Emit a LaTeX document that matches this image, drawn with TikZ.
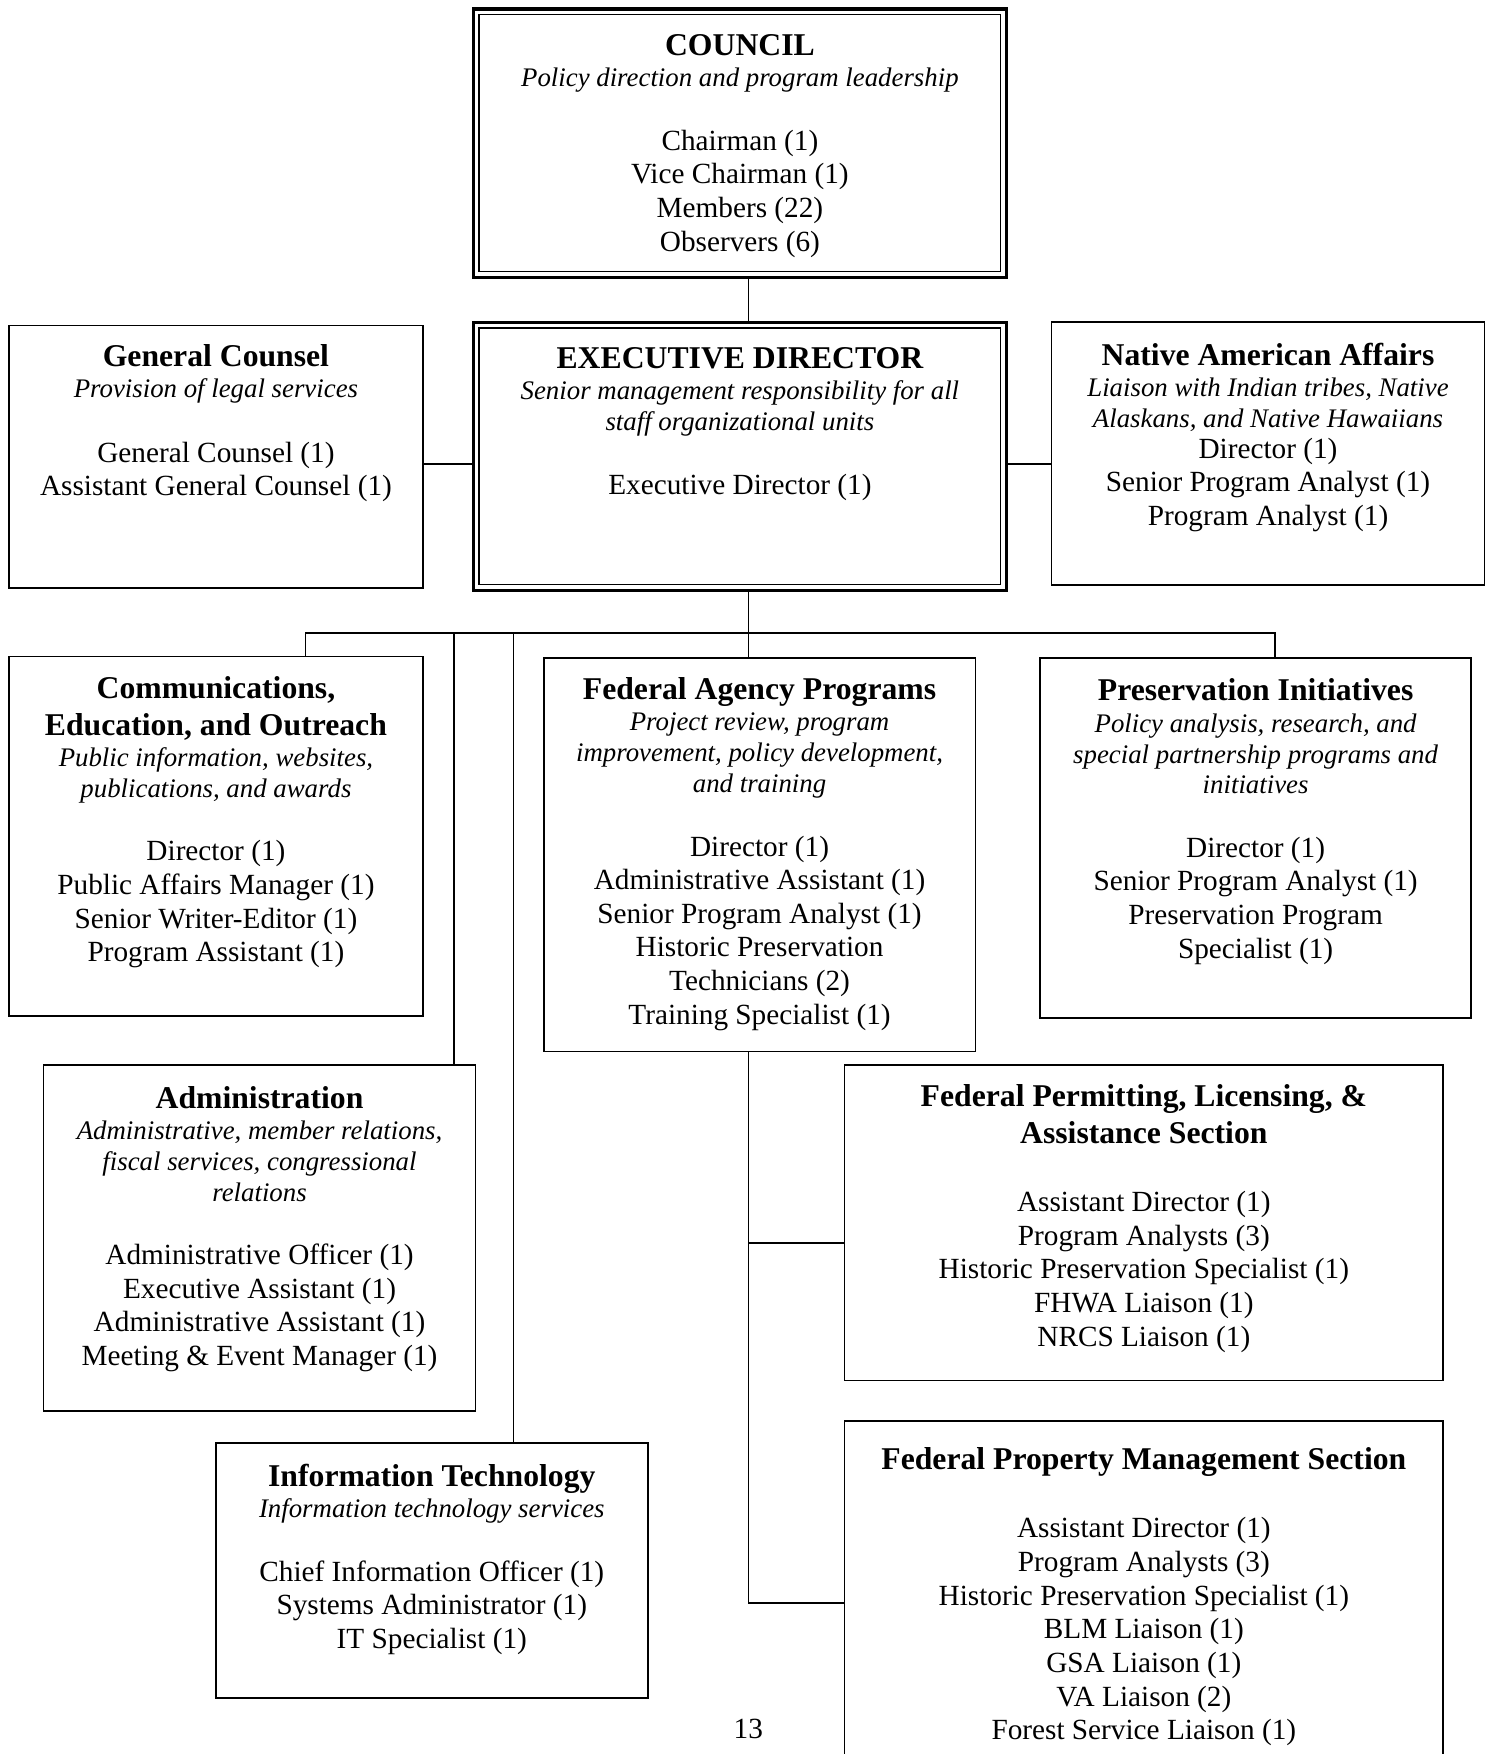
\documentclass[tikz,border=0pt]{standalone}
\usepackage{fontspec}
\setmainfont{Liberation Serif}
\usetikzlibrary{positioning}

\newcommand{\unitname}[1]{{\fontsize{13}{15}\selectfont\bfseries #1}}
\newcommand{\unitrole}[1]{{\fontsize{11}{12.65}\selectfont\itshape #1}}

\tikzset{
    unit/.style={draw, rectangle, line width=0.7pt, anchor=north west, inner sep=0pt, outer sep=0pt},
    topunit/.style={unit, line width=1.3pt},
    unittext/.style={align=center, inner sep=0pt, font=\fontsize{12}{13.8}\selectfont},
    link/.style={line width=0.7pt}
}

\begin{document}
\begin{tikzpicture}[x=0.4588pt, y=-0.4588pt]
        \useasboundingbox (0,0) rectangle (1334,1568);
        \clip (0,0) rectangle (1334,1568);

        \node[topunit, minimum width=218.8pt, minimum height=110.1pt](council) at (423,8){};
        \node[topunit, minimum width=218.8pt, minimum height=110.1pt](exec) at (423,288){};
        \node[unit, minimum width=169.8pt, minimum height=107.8pt](counsel) at (8,291){};
        \node[unit, minimum width=177.6pt, minimum height=107.8pt](native) at (940,288){};
        \node[unit, minimum width=169.8pt, minimum height=147.3pt](ceo) at (8,587){};
        \node[unit, minimum width=177.1pt, minimum height=161.5pt](fap) at (486,588){};
        \node[unit, minimum width=176.6pt, minimum height=147.7pt](pi) at (930,588){};
        \node[unit, minimum width=177.1pt, minimum height=141.8pt](admin) at (39,952){};
        \node[unit, minimum width=177.1pt, minimum height=104.6pt](it) at (193,1290){};
        \node[unit, minimum width=245.5pt, minimum height=129.4pt](fpla) at (755,952){};
        \node[unit, minimum width=245.5pt, minimum height=156pt](fpm) at (755,1270){};

        \draw[line width=0.5pt] ([shift={(2.4pt,-2.4pt)}]council.north west) rectangle ([shift={(-2.4pt,2.4pt)}]council.south east);
        \draw[line width=0.5pt] ([shift={(2.4pt,-2.4pt)}]exec.north west) rectangle ([shift={(-2.4pt,2.4pt)}]exec.south east);

        \node[unittext](council-text)[below = 10.3pt of council.north]{
            \unitname{COUNCIL}\\[-1pt]
            \unitrole{Policy direction and program leadership}\\[12.2pt]
            Chairman (1)\\ Vice Chairman (1)\\ Members (22)\\ Observers (6)};
        \node[unittext](exec-text)[below = 10.3pt of exec.north]{
            \unitname{EXECUTIVE DIRECTOR}\\[-1pt]
            \unitrole{Senior management responsibility for all}\\[-1.15pt]
            \unitrole{staff organizational units}\\[12.2pt]
            Executive Director (1)};
        \node[unittext](counsel-text)[below = 7.6pt of counsel.north]{
            \unitname{General Counsel}\\[-1pt]
            \unitrole{Provision of legal services}\\[12.6pt]
            General Counsel (1)\\ Assistant General Counsel (1)};
        \node[unittext](native-text)[below = 8.5pt of native.north]{
            \unitname{Native American Affairs}\\[-1pt]
            \unitrole{Liaison with Indian tribes, Native}\\[-1.15pt]
            \unitrole{Alaskans, and Native Hawaiians}\\[-1.3pt]
            Director (1)\\ Senior Program Analyst (1)\\ Program Analyst (1)};
        \node[unittext](ceo-text)[below = 8pt of ceo.north]{
            \unitname{Communications,}\\[1.3pt]
            \unitname{Education, and Outreach}\\[-1pt]
            \unitrole{Public information, websites,}\\[-1.15pt]
            \unitrole{publications, and awards}\\[12.2pt]
            Director (1)\\ Public Affairs Manager (1)\\ Senior Writer-Editor (1)\\ Program Assistant (1)};
        \node[unittext](fap-text)[below = 8pt of fap.north]{
            \unitname{Federal Agency Programs}\\[-1pt]
            \unitrole{Project review, program}\\[-1.15pt]
            \unitrole{improvement, policy development,}\\[-1.15pt]
            \unitrole{and training}\\[12.2pt]
            Director (1)\\ Administrative Assistant (1)\\ Senior Program Analyst (1)\\
            Historic Preservation\\ Technicians (2)\\ Training Specialist (1)};
        \node[unittext](pi-text)[below = 8.5pt of pi.north]{
            \unitname{Preservation Initiatives}\\[-1pt]
            \unitrole{Policy analysis, research, and}\\[-1.15pt]
            \unitrole{special partnership programs and}\\[-1.15pt]
            \unitrole{initiatives}\\[12.2pt]
            Director (1)\\ Senior Program Analyst (1)\\ Preservation Program\\ Specialist (1)};
        \node[unittext](admin-text)[below = 8.5pt of admin.north]{
            \unitname{Administration}\\[-1pt]
            \unitrole{Administrative, member relations,}\\[-1.15pt]
            \unitrole{fiscal services, congressional}\\[-1.15pt]
            \unitrole{relations}\\[12.2pt]
            Administrative Officer (1)\\ Executive Assistant (1)\\ Administrative Assistant (1)\\
            Meeting \& Event Manager (1)};
        \node[unittext](it-text)[below = 8.5pt of it.north]{
            \unitname{Information Technology}\\[-1pt]
            \unitrole{Information technology services}\\[12.2pt]
            Chief Information Officer (1)\\ Systems Administrator (1)\\ IT Specialist (1)};
        \node[unittext](fpla-text)[below = 8pt of fpla.north]{
            \unitname{Federal Permitting, Licensing, \&}\\[1.3pt]
            \unitname{Assistance Section}\\[14pt]
            Assistant Director (1)\\ Program Analysts (3)\\ Historic Preservation Specialist (1)\\
            FHWA Liaison (1)\\ NRCS Liaison (1)};
        \node[unittext](fpm-text)[below = 11pt of fpm.north]{
            \unitname{Federal Property Management Section}\\[14.1pt]
            Assistant Director (1)\\ Program Analysts (3)\\ Historic Preservation Specialist (1)\\
            BLM Liaison (1)\\ GSA Liaison (1)\\ VA Liaison (2)\\ Forest Service Liaison (1)};

        \node[unittext](pagenum) at (669,1546){13};

        \coordinate (spine) at (669,566);
        \coordinate (side) at (669,415);
        \coordinate (bus-ceo) at (273,566);
        \coordinate (bus-admin) at (406,566);
        \coordinate (bus-it) at (459,566);
        \coordinate (bus-pi) at (1140,566);
        \coordinate (tap-fpla) at (669,1111);
        \coordinate (tap-fpm) at (669,1433);

        \draw[link] (council.south -| spine) -- (exec.north -| spine);
        \draw[link] (counsel.east |- side) -- (exec.west |- side);
        \draw[link] (exec.east |- side) -- (native.west |- side);
        \draw[link] (exec.south -| spine) -- (fap.north -| spine);
        \draw[link] (ceo.north -| bus-ceo) -- (bus-ceo) -- (bus-pi) -- (pi.north -| bus-pi);
        \draw[link] (bus-admin) -- (admin.north -| bus-admin);
        \draw[link] (bus-it) -- (it.north -| bus-it);
        \draw[link] (fap.south -| spine) -- (tap-fpm) -- (tap-fpm -| fpm.west);
        \draw[link] (tap-fpla) -- (tap-fpla -| fpla.west);
    \end{tikzpicture}
\end{document}
